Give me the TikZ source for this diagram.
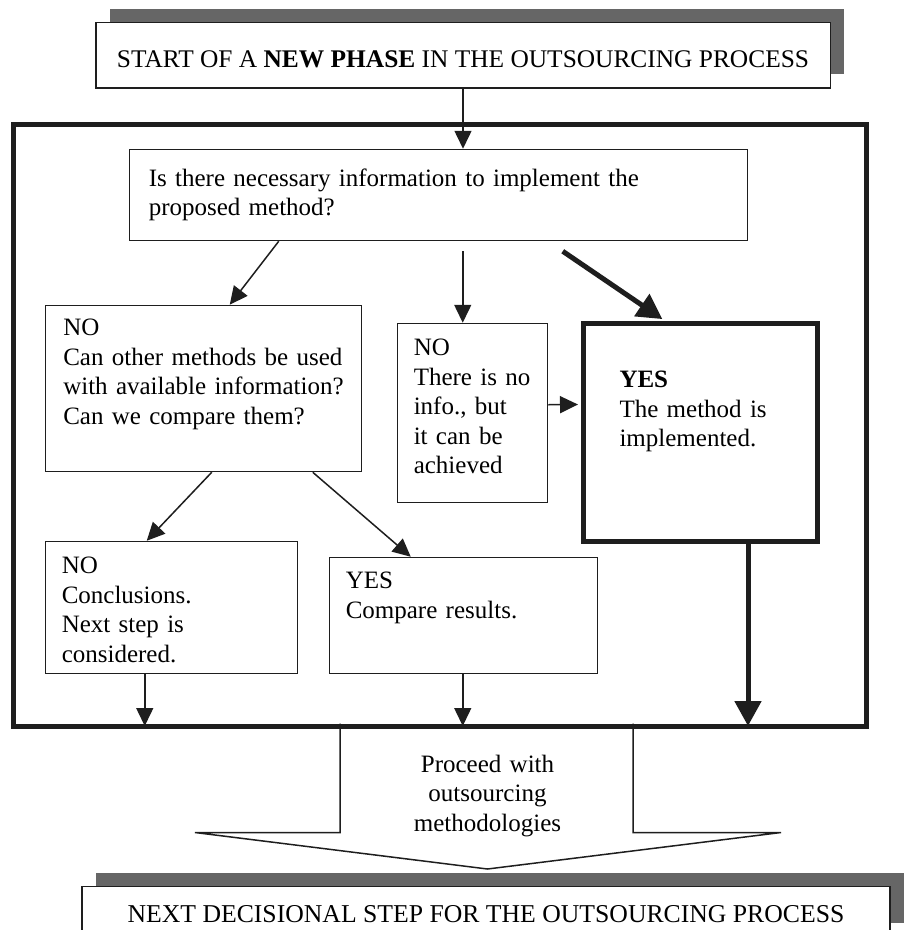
\documentclass[tikz,border=0pt]{standalone}
\usepackage{fontspec}
\setmainfont{Liberation Serif}
\usetikzlibrary{arrows.meta,shadows}
\definecolor{linedark}{HTML}{1E1E1E}
\definecolor{shadowgray}{HTML}{666666}
\newcommand{\blockfont}{\fontsize{25}{29.5}\selectfont}
\tikzstyle{basicblock} = [rectangle, draw=linedark, line width=1.5pt, anchor=north west, inner ysep=0pt, align=left, font=\blockfont]
\tikzstyle{phaseblock} = [rectangle, draw=linedark, fill=white, line width=1.5pt, anchor=north, inner sep=0pt, font=\blockfont, general shadow={fill=shadowgray, draw=none, shadow xshift=14pt, shadow yshift=14pt}]
\tikzstyle{arrow} = [line width=1.5pt, draw=linedark, -{Triangle[length=18pt,width=17pt]}]
\tikzstyle{boldarrow} = [line width=5pt, draw=linedark, -{Triangle[length=25pt,width=26pt]}]

\begin{document}
\begin{tikzpicture}[x=1pt, y=-1pt]

	\path[use as bounding box, clip] (0,0) rectangle (908,930);

	\node (mainFrame) [rectangle, draw=linedark, line width=5pt, anchor=north west, minimum width=853.5pt, minimum height=602pt, inner sep=0pt] at (10.5,121.5) {};

	\node (startPhase) [phaseblock, minimum width=734.5pt, text height=45.25pt, text depth=20.25pt, font=\fontsize{25.4}{29.5}\selectfont] at (463,21.75) {START OF A \textbf{NEW PHASE} IN THE OUTSOURCING PROCESS};

	\node (infoQuestion) [basicblock, inner xsep=19.25pt, text width=579.5pt, text height=36.75pt, text depth=54.25pt] at (128.75,148.75) {Is there necessary information to implement the\\proposed method?};

	\node (otherMethods) [basicblock, inner xsep=17.75pt, text width=280.5pt, text height=30.25pt, text depth=135.75pt] at (44.75,304.75) {NO\\Can other methods be used\\with available information?\\Can we compare them?};

	\node (noInfo) [basicblock, inner xsep=16.25pt, text width=117.5pt, text height=32.25pt, text depth=146.75pt] at (396.75,322.75) {NO\\There is no\\info., but\\it can be\\achieved};

	\node (methodYes) [basicblock, line width=5pt, inner xsep=36.5pt, text width=161pt, text height=64.5pt, text depth=153.5pt] at (580.5,320.5) {\textbf{YES}\\The method is\\implemented.};

	\node (conclusionsNo) [basicblock, inner xsep=16.25pt, text width=219.5pt, text height=32.25pt, text depth=99.75pt] at (44.75,540.75) {NO\\Conclusions.\\Next step is\\considered.};

	\node (compareYes) [basicblock, inner xsep=16.25pt, text width=235.5pt, text height=31.25pt, text depth=84.75pt] at (328.75,556.75) {YES\\Compare results.};

	\draw [line width=1.5pt, draw=linedark] (340,723.5) -- (340,832.5) -- (195,832.5) -- (487.5,869) -- (781,832.5) -- (633,832.5) -- (633,723.5);

	\node (proceedText) [font=\blockfont, align=center, text width=250pt, anchor=base] at (487.5,772) {Proceed with\\outsourcing\\methodologies};

	\node (nextStep) [phaseblock, minimum width=808pt, text height=36.25pt, text depth=14pt, font=\fontsize{25.7}{29.5}\selectfont] at (486,885.75) {NEXT DECISIONAL STEP FOR THE OUTSOURCING PROCESS};

	\draw [arrow] (startPhase.south) -- (startPhase.south |- infoQuestion.north);

	\draw [arrow] ([xshift=150pt]infoQuestion.south west) -- ([xshift=185pt]otherMethods.north west);
	\draw [arrow] ([xshift=334pt,yshift=-10pt]infoQuestion.south west) -- ([xshift=66pt]noInfo.north west);
	\draw [boldarrow, shorten >=2.5pt] ([xshift=434pt,yshift=-10pt]infoQuestion.south west) -- ([xshift=84pt]methodYes.north west);

	\draw [arrow, shorten >=2.5pt] ([yshift=-82pt]noInfo.north east) -- ([yshift=-84pt]methodYes.north west);

	\draw [arrow] ([xshift=167pt]otherMethods.south west) -- ([xshift=102pt]conclusionsNo.north west);
	\draw [arrow] ([xshift=268pt]otherMethods.south west) -- ([xshift=82pt]compareYes.north west);

	\draw [arrow, shorten >=2.5pt] ([xshift=100pt]conclusionsNo.south west) -- ([xshift=134.25pt]mainFrame.south west);
	\draw [arrow, shorten >=2.5pt] ([xshift=134pt]compareYes.south west) -- ([xshift=452.25pt]mainFrame.south west);
	\draw [boldarrow, shorten >=2.5pt] ([xshift=167.5pt]methodYes.south west) -- ([xshift=737.5pt]mainFrame.south west);

\end{tikzpicture}
\end{document}
